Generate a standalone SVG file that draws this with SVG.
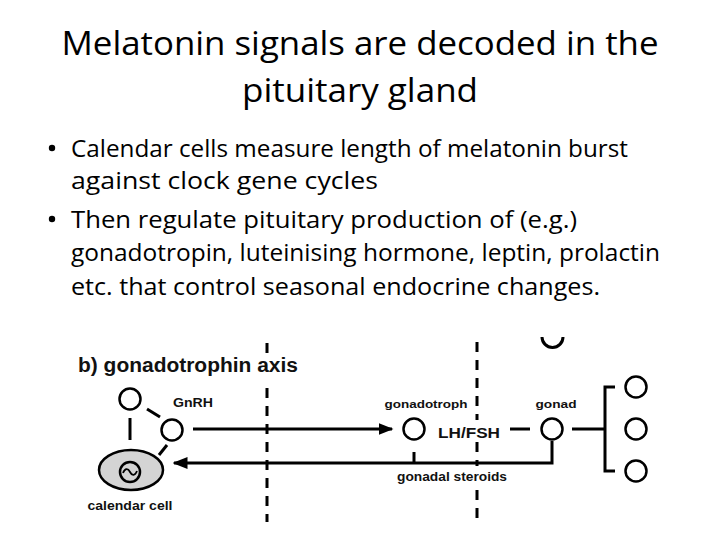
<svg xmlns="http://www.w3.org/2000/svg" width="720" height="540" viewBox="0 0 720 540">
<style>
.title{font-family:"Open Sans","Liberation Sans",sans-serif;font-size:32px;fill:#000}
.body{font-family:"Open Sans","Liberation Sans",sans-serif;font-size:23.5px;fill:#000}
.lab{font-family:"Liberation Sans",Arial,sans-serif;font-weight:bold;fill:#111}
.node{fill:#fff;stroke:#000;stroke-width:2.5}
.ln{stroke:#000;stroke-width:3;fill:none}
.dash{stroke:#000;stroke-width:3;stroke-dasharray:10 8;fill:none}
</style>
<defs>
<marker id="ah" markerWidth="5" markerHeight="4" refX="4.5" refY="2" orient="auto" markerUnits="strokeWidth">
<path d="M0,0 L5,2 L0,4 Z" fill="#000"/>
</marker>
</defs>
<rect width="720" height="540" fill="#fff"/>
<g id="title">
<text class="title" x="360" y="55" text-anchor="middle" textLength="597" lengthAdjust="spacingAndGlyphs">Melatonin signals are decoded in the</text>
<text class="title" x="360" y="102" text-anchor="middle" textLength="236" lengthAdjust="spacingAndGlyphs">pituitary gland</text>
</g>
<g id="bullets">
<circle cx="52" cy="148" r="3.2" fill="#000"/>
<text class="body" x="71" y="157" textLength="557" lengthAdjust="spacingAndGlyphs">Calendar cells measure length of melatonin burst</text>
<text class="body" x="71" y="189" textLength="307" lengthAdjust="spacingAndGlyphs">against clock gene cycles</text>
<circle cx="52" cy="219" r="3.2" fill="#000"/>
<text class="body" x="71" y="228" textLength="506" lengthAdjust="spacingAndGlyphs">Then regulate pituitary production of (e.g.)</text>
<text class="body" x="71" y="261" textLength="589" lengthAdjust="spacingAndGlyphs">gonadotropin, luteinising hormone, leptin, prolactin</text>
<text class="body" x="71" y="295" textLength="529" lengthAdjust="spacingAndGlyphs">etc. that control seasonal endocrine changes.</text>
</g>
<g id="boundaries">
<path class="dash" d="M267,343 V356 M267,388 V522"/>
<path class="dash" d="M477,342 V420 M477,442 V466 M477,490 V522"/>
</g>
<g id="connectors">
<line class="ln" x1="147" y1="409" x2="160" y2="417"/>
<line class="ln" x1="130" y1="418" x2="130" y2="440"/>
<line class="ln" x1="167" y1="445" x2="159" y2="455"/>
<line class="ln" x1="193" y1="429" x2="392" y2="429" marker-end="url(#ah)"/>
<path class="ln" d="M552,441 V463 H174" marker-end="url(#ah)"/>
<line class="ln" x1="414" y1="452" x2="414" y2="463"/>
<line class="ln" x1="510" y1="429" x2="530" y2="429"/>
<line class="ln" x1="572" y1="429" x2="605" y2="429"/>
<path class="ln" d="M615,387 H605 V471 H615"/>
</g>
<g id="heading"><text class="lab" x="78" y="372" font-size="19.5" textLength="220" lengthAdjust="spacingAndGlyphs">b) gonadotrophin axis</text></g>
<g id="gnrh-cell1"><circle class="node" cx="130" cy="399" r="10.5"/></g>
<g id="gnrh-cell2"><circle class="node" cx="172" cy="430" r="10.5"/></g>
<g id="gnrh-label"><text class="lab" x="173" y="407" font-size="13" textLength="40" lengthAdjust="spacingAndGlyphs">GnRH</text></g>
<g id="calendar-cell">
<ellipse cx="131" cy="470" rx="32" ry="20" fill="#d4d4d4" stroke="#000" stroke-width="2.5"/>
<circle cx="130" cy="472" r="10" fill="none" stroke="#000" stroke-width="2.5"/>
<path d="M123,473 C125,468 128,468 130,472 C132,476 135,476 137,471" fill="none" stroke="#000" stroke-width="1.8"/>
<text class="lab" x="130" y="510" font-size="13" text-anchor="middle" textLength="85" lengthAdjust="spacingAndGlyphs">calendar cell</text>
</g>
<g id="gonadotroph">
<circle class="node" cx="414" cy="429" r="10.5"/>
<text class="lab" x="426" y="408" font-size="11.5" text-anchor="middle" textLength="83" lengthAdjust="spacingAndGlyphs">gonadotroph</text>
</g>
<g id="lhfsh"><text class="lab" x="438" y="438" font-size="15" textLength="62" lengthAdjust="spacingAndGlyphs">LH/FSH</text></g>
<g id="steroids"><text class="lab" x="452" y="481" font-size="13" text-anchor="middle" textLength="110" lengthAdjust="spacingAndGlyphs">gonadal steroids</text></g>
<g id="gonad">
<circle class="node" cx="552" cy="429" r="10.5"/>
<text class="lab" x="556" y="408" font-size="11.5" text-anchor="middle" textLength="41" lengthAdjust="spacingAndGlyphs">gonad</text>
</g>
<g id="top-cell"><path class="ln" stroke-width="2.5" d="M542,337 A10.5,10.5 0 0 0 563,337"/></g>
<g id="target1"><circle class="node" cx="636" cy="387" r="10.5"/></g>
<g id="target2"><circle class="node" cx="636" cy="429" r="10.5"/></g>
<g id="target3"><circle class="node" cx="636" cy="471" r="10.5"/></g>
</svg>
